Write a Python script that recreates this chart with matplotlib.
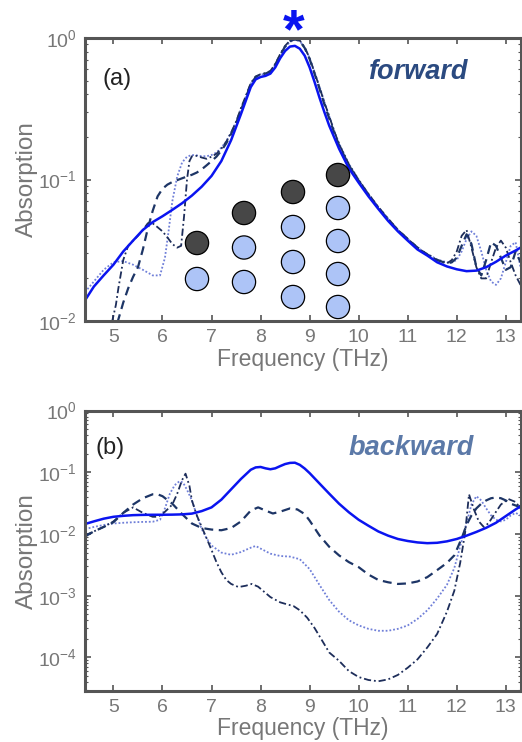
import matplotlib
matplotlib.use("Agg")
import matplotlib.pyplot as plt
import numpy as np

plt.rcParams['font.family'] = ['Liberation Sans', 'DejaVu Sans']
plt.rcParams['mathtext.default'] = 'regular'

# ---- panel (a) forward ----
fa_solid = [4.42, 4.6, 4.8, 5.0, 5.2, 5.4, 5.6, 5.8, 6.0, 6.2, 6.4, 6.6, 6.8, 7.0, 7.2, 7.4, 7.6, 7.8, 7.9,
            8.0, 8.1, 8.2, 8.3, 8.4, 8.5, 8.6, 8.7, 8.8, 8.9, 9.0, 9.1, 9.2, 9.3, 9.4, 9.6, 9.8, 10.0, 10.2,
            10.4, 10.6, 10.8, 11.0, 11.2, 11.4, 11.6, 11.8, 12.0, 12.2, 12.4, 12.6, 12.8, 13.0, 13.2, 13.3]
a_solid = [0.014, 0.0175, 0.021, 0.025, 0.031, 0.037, 0.044, 0.050, 0.055, 0.061, 0.068, 0.077, 0.089, 0.106,
           0.135, 0.19, 0.29, 0.45, 0.51, 0.53, 0.54, 0.56, 0.62, 0.72, 0.81, 0.87, 0.88, 0.84, 0.75, 0.62,
           0.49, 0.38, 0.30, 0.24, 0.165, 0.12, 0.095, 0.076, 0.062, 0.051, 0.043, 0.037, 0.032, 0.029,
           0.026, 0.0243, 0.0232, 0.0225, 0.0227, 0.024, 0.0262, 0.029, 0.0315, 0.033]

fa_dash = [5.08, 5.2, 5.3, 5.4, 5.5, 5.6, 5.7, 5.8, 5.9, 6.0, 6.1, 6.2, 6.3, 6.4, 6.5, 6.6, 6.7, 6.8, 6.9,
           7.0, 7.1, 7.2, 7.3, 7.4, 7.5, 7.6, 7.7, 7.8, 7.9, 8.0, 8.1, 8.2, 8.3, 8.4, 8.5, 8.6, 8.7, 8.8,
           8.9, 9.0, 9.1, 9.2, 9.3, 9.4, 9.5, 9.6, 9.8, 10.0, 10.2, 10.4, 10.6, 10.8, 11.0, 11.2, 11.4,
           11.6, 11.8, 11.9, 12.0, 12.1, 12.2, 12.3, 12.4, 12.5, 12.6, 12.7, 12.8, 12.9, 13.0, 13.1, 13.2, 13.3]
a_dash = [0.0097, 0.0135, 0.017, 0.0205, 0.024, 0.032, 0.045, 0.06, 0.076, 0.086, 0.092, 0.096, 0.099,
          0.102, 0.105, 0.108, 0.112, 0.118, 0.126, 0.135, 0.145, 0.16, 0.18, 0.21, 0.25, 0.31, 0.38, 0.47,
          0.53, 0.55, 0.56, 0.58, 0.65, 0.76, 0.87, 0.95, 0.98, 0.95, 0.85, 0.71, 0.56, 0.44, 0.34, 0.27,
          0.215, 0.175, 0.126, 0.098, 0.078, 0.063, 0.052, 0.044, 0.038, 0.033, 0.0295, 0.027, 0.0255,
          0.026, 0.028, 0.034, 0.041, 0.035, 0.024, 0.021, 0.027, 0.036, 0.034, 0.028, 0.023, 0.024, 0.031, 0.026]

fa_dot = [4.42, 4.6, 4.8, 5.0, 5.2, 5.4, 5.6, 5.8, 5.95, 6.05, 6.12, 6.2, 6.3, 6.4, 6.5, 6.6, 6.7, 6.8, 6.9,
          7.0, 7.1, 7.2, 7.3, 7.4, 7.5, 7.6, 7.7, 7.8, 7.9, 8.0, 8.1, 8.2, 8.3, 8.4, 8.5, 8.6, 8.7, 8.8,
          8.9, 9.0, 9.1, 9.2, 9.3, 9.4, 9.5, 9.6, 9.8, 10.0, 10.2, 10.4, 10.6, 10.8, 11.0, 11.2, 11.4,
          11.6, 11.8, 11.9, 12.0, 12.1, 12.2, 12.3, 12.4, 12.5, 12.6, 12.7, 12.8, 12.9, 13.0, 13.1, 13.2, 13.3]
a_dot = [0.016, 0.019, 0.023, 0.026, 0.0265, 0.025, 0.023, 0.021, 0.021, 0.028, 0.042, 0.07, 0.105, 0.132,
         0.145, 0.149, 0.148, 0.146, 0.146, 0.149, 0.155, 0.168, 0.186, 0.215, 0.255, 0.315, 0.385, 0.475,
         0.53, 0.55, 0.56, 0.58, 0.645, 0.755, 0.86, 0.94, 0.97, 0.95, 0.855, 0.72, 0.575, 0.455, 0.355,
         0.28, 0.222, 0.18, 0.129, 0.1, 0.079, 0.064, 0.053, 0.044, 0.038, 0.033, 0.0298, 0.0272, 0.026,
         0.026, 0.027, 0.031, 0.038, 0.043, 0.040, 0.031, 0.023, 0.019, 0.018, 0.020, 0.026, 0.034, 0.036, 0.024]

fa_dd = [4.97, 5.05, 5.1, 5.2, 5.3, 5.4, 5.5, 5.6, 5.7, 5.75, 5.8, 5.9, 6.0, 6.1, 6.2, 6.3, 6.38, 6.44, 6.5,
         6.55, 6.6, 6.7, 6.8, 6.9, 7.0, 7.1, 7.2, 7.3, 7.4, 7.5, 7.6, 7.7, 7.8, 7.9, 8.0, 8.1, 8.2, 8.3,
         8.4, 8.5, 8.6, 8.7, 8.8, 8.9, 9.0, 9.1, 9.2, 9.3, 9.4, 9.5, 9.6, 9.8, 10.0, 10.2, 10.4, 10.6,
         10.8, 11.0, 11.2, 11.4, 11.6, 11.8, 11.9, 12.0, 12.1, 12.2, 12.3, 12.4, 12.5, 12.6, 12.7, 12.8,
         12.9, 13.0, 13.1, 13.2, 13.3]
a_dd = [0.0098, 0.013, 0.017, 0.027, 0.034, 0.037, 0.040, 0.044, 0.049, 0.050, 0.049, 0.046, 0.043, 0.039,
        0.035, 0.033, 0.034, 0.055, 0.10, 0.135, 0.146, 0.147, 0.143, 0.140, 0.145, 0.152, 0.165, 0.185,
        0.215, 0.255, 0.32, 0.39, 0.48, 0.535, 0.555, 0.565, 0.585, 0.655, 0.77, 0.88, 0.96, 0.99, 0.96,
        0.86, 0.72, 0.57, 0.45, 0.35, 0.28, 0.22, 0.178, 0.128, 0.099, 0.079, 0.064, 0.053, 0.044, 0.038,
        0.033, 0.0295, 0.027, 0.0255, 0.027, 0.031, 0.040, 0.044, 0.033, 0.024, 0.020, 0.020, 0.026, 0.033,
        0.037, 0.033, 0.026, 0.021, 0.018]

# ---- panel (b) backward ----
fb_solid = [4.42, 4.6, 4.8, 5.0, 5.2, 5.4, 5.6, 5.8, 6.0, 6.2, 6.4, 6.6, 6.8, 7.0, 7.2, 7.4, 7.6, 7.8, 7.9,
            8.0, 8.1, 8.2, 8.3, 8.4, 8.5, 8.6, 8.7, 8.8, 8.9, 9.0, 9.1, 9.2, 9.4, 9.6, 9.8, 10.0, 10.2, 10.4,
            10.6, 10.8, 11.0, 11.2, 11.4, 11.6, 11.8, 12.0, 12.2, 12.4, 12.6, 12.8, 13.0, 13.2, 13.3]
b_solid = [0.0145, 0.016, 0.0177, 0.019, 0.0197, 0.0202, 0.0204, 0.0205, 0.0205, 0.0206, 0.0208, 0.0214,
           0.0235, 0.027, 0.036, 0.053, 0.078, 0.11, 0.12, 0.122, 0.116, 0.112, 0.116, 0.126, 0.136, 0.142,
           0.143, 0.132, 0.115, 0.097, 0.08, 0.066, 0.045, 0.031, 0.0225, 0.017, 0.0136, 0.011, 0.0094,
           0.0083, 0.0077, 0.0073, 0.0071, 0.0072, 0.0076, 0.0083, 0.0094, 0.0108, 0.0126, 0.0152, 0.0195,
           0.025, 0.028]

fb_dash = [4.42, 4.6, 4.8, 5.0, 5.2, 5.4, 5.6, 5.8, 5.9, 6.0, 6.2, 6.4, 6.6, 6.8, 7.0, 7.2, 7.4, 7.6, 7.8,
           7.95, 8.1, 8.25, 8.4, 8.6, 8.75, 8.9, 9.0, 9.2, 9.4, 9.6, 9.8, 10.0, 10.2, 10.4, 10.6, 10.8, 11.0,
           11.2, 11.4, 11.6, 11.8, 11.95, 12.1, 12.2, 12.3, 12.4, 12.5, 12.6, 12.7, 12.8, 12.9, 13.0, 13.1,
           13.2, 13.3]
b_dash = [0.0091, 0.011, 0.013, 0.0155, 0.022, 0.030, 0.038, 0.044, 0.044, 0.041, 0.031, 0.021, 0.0148,
          0.0125, 0.0118, 0.0115, 0.0125, 0.016, 0.024, 0.027, 0.024, 0.0215, 0.023, 0.026, 0.025, 0.021,
          0.0165, 0.0095, 0.0062, 0.0045, 0.0035, 0.0029, 0.0022, 0.0018, 0.00165, 0.00155, 0.00158,
          0.0017, 0.0020, 0.0026, 0.0034, 0.0045, 0.0085, 0.014, 0.020, 0.026, 0.031, 0.035, 0.038, 0.039,
          0.038, 0.035, 0.031, 0.029, 0.027]

fb_dot = [4.42, 4.6, 4.8, 5.0, 5.2, 5.4, 5.6, 5.8, 5.95, 6.05, 6.15, 6.25, 6.35, 6.42, 6.5, 6.6, 6.7, 6.8,
          6.9, 7.0, 7.2, 7.4, 7.6, 7.8, 7.9, 8.0, 8.2, 8.4, 8.6, 8.8, 9.0, 9.2, 9.4, 9.6, 9.8, 10.0, 10.2,
          10.4, 10.6, 10.8, 11.0, 11.2, 11.4, 11.6, 11.8, 11.95, 12.07, 12.2, 12.3, 12.4, 12.5, 12.6, 12.7,
          12.8, 12.9, 13.0, 13.1, 13.2, 13.3]
b_dot = [0.012, 0.013, 0.014, 0.0148, 0.0152, 0.0155, 0.0157, 0.0158, 0.017, 0.026, 0.045, 0.062, 0.072,
         0.068, 0.052, 0.035, 0.020, 0.012, 0.0085, 0.0065, 0.005, 0.0046, 0.0051, 0.006, 0.0064, 0.0058,
         0.0048, 0.0044, 0.0043, 0.0039, 0.0027, 0.0015, 0.00085, 0.00055, 0.0004, 0.00033, 0.00029,
         0.00027, 0.00027, 0.00029, 0.00033, 0.00042, 0.00058, 0.0009, 0.0015, 0.0028, 0.0063, 0.015,
         0.030, 0.041, 0.035, 0.026, 0.020, 0.017, 0.016, 0.017, 0.020, 0.022, 0.020]

fb_dd = [4.42, 4.6, 4.8, 5.0, 5.2, 5.4, 5.6, 5.8, 5.9, 6.0, 6.1, 6.2, 6.3, 6.4, 6.47, 6.55, 6.6, 6.7, 6.8,
         6.9, 7.0, 7.1, 7.2, 7.3, 7.4, 7.55, 7.7, 7.82, 7.95, 8.06, 8.2, 8.4, 8.55, 8.67, 8.8, 8.95, 9.1,
         9.25, 9.4, 9.6, 9.8, 10.0, 10.2, 10.4, 10.6, 10.8, 11.0, 11.2, 11.4, 11.6, 11.8, 11.95, 12.07,
         12.17, 12.25, 12.35, 12.45, 12.55, 12.65, 12.75, 12.9, 13.05, 13.2, 13.3]
b_dd = [0.0095, 0.011, 0.013, 0.016, 0.022, 0.027, 0.022, 0.019, 0.019, 0.021, 0.025, 0.030, 0.045, 0.075,
        0.095, 0.060, 0.035, 0.020, 0.013, 0.0085, 0.0055, 0.0035, 0.0024, 0.0018, 0.00155, 0.00138,
        0.00145, 0.00155, 0.0014, 0.00118, 0.00095, 0.00078, 0.00072, 0.00068, 0.00058, 0.00044,
        0.00030, 0.00019, 0.00012, 0.000088, 0.00006, 0.000048, 0.000043, 0.000041, 0.000044, 0.000052,
        0.000068, 0.000093, 0.000145, 0.00024, 0.00055, 0.0012, 0.0034, 0.0104, 0.044, 0.025, 0.016,
        0.013, 0.015, 0.020, 0.030, 0.037, 0.033, 0.026]

x_ticks = [5, 6, 7, 8, 9, 10, 11, 12, 13]

c_solid = '#0a14f0'
c_dash = '#1d3566'
c_dot = '#6f7fd8'
c_dd = '#1d2d5a'
grey = '#777777'
frame = '#555555'

W, H = 522, 742
fig = plt.figure(figsize=(W / 100, H / 100), dpi=100)
ax1 = fig.add_axes([85 / W, 1 - 321 / H, 436 / W, 283 / H])
ax2 = fig.add_axes([85 / W, 1 - 690.7 / H, 436 / W, 280.1 / H])


def style(ax, ylo):
    ax.set_yscale('log')
    ax.set_xlim(4.42, 13.31)
    ax.set_ylim(ylo, 1)
    ax.set_xticks(x_ticks)
    for s in ax.spines.values():
        s.set_color(frame)
        s.set_linewidth(2.2)
    ax.tick_params(which='major', direction='in', top=True, right=True, length=4, width=1.2,
                   color=frame, labelsize=14, labelcolor=grey, pad=6)
    ax.tick_params(which='minor', direction='in', left=True, right=True, length=2, width=0.8, color=frame)
    ax.set_xlabel('Frequency (THz)', fontsize=16.5, color=grey, labelpad=1)
    ax.set_ylabel('Absorption', fontsize=17.5, color=grey, labelpad=0)


ax1.plot(fa_dot, a_dot, color=c_dot, lw=1.3, linestyle=(0, (1, 1.1)))
ax1.plot(fa_dd, a_dd, color=c_dd, lw=1.3, linestyle=(0, (4, 1.6, 1, 1.6)))
ax1.plot(fa_dash, a_dash, color=c_dash, lw=1.6, linestyle=(0, (4, 2.5)))
ax1.plot(fa_solid, a_solid, color=c_solid, lw=1.8)
style(ax1, 1e-2)
ax1.set_yticks([1e-2, 1e-1, 1])
ax1.text(0.04, 0.855, '(a)', transform=ax1.transAxes, fontsize=17, color='#222222', va='center')
ax1.text(0.764, 0.88, 'forward', transform=ax1.transAxes, fontsize=19.5, color='#2b4a80',
         fontweight='bold', fontstyle='italic', ha='center', va='center')
ax1.text(8.67, 1.018, '*', transform=ax1.get_xaxis_transform(), fontsize=40, fontweight='bold',
         color=c_solid, ha='center', va='center', clip_on=False)

ax2.plot(fb_dot, b_dot, color=c_dot, lw=1.3, linestyle=(0, (1, 1.1)))
ax2.plot(fb_dd, b_dd, color=c_dd, lw=1.3, linestyle=(0, (4, 1.6, 1, 1.6)))
ax2.plot(fb_dash, b_dash, color=c_dash, lw=1.6, linestyle=(0, (4, 2.5)))
ax2.plot(fb_solid, b_solid, color=c_solid, lw=1.8)
style(ax2, 10 ** -4.54)
ax2.set_yticks([1e-4, 1e-3, 1e-2, 1e-1, 1])
ax2.text(0.025, 0.867, '(b)', transform=ax2.transAxes, fontsize=17, color='#222222', va='center')
ax2.text(0.748, 0.867, 'backward', transform=ax2.transAxes, fontsize=19.5, color='#5b79a8',
         fontweight='bold', fontstyle='italic', ha='center', va='center')

# sphere sketch inside panel (a), figure pixel layout
sk = fig.add_axes([0, 0, 1, 1])
sk.set_xlim(0, W)
sk.set_ylim(H, 0)
sk.axis('off')
col_x = [197, 244, 293, 338]
col_top = [243, 213, 192, 175]
col_gap = [36, 34.5, 35, 33]
for i, (cx, ct, gap) in enumerate(zip(col_x, col_top, col_gap)):
    n = i + 2
    ys = [ct + gap * k for k in range(n)]
    cols = ['#474747'] + ['#adc4f7'] * (n - 1)
    sk.scatter([cx] * n, ys, s=280, c=cols, edgecolors='black', linewidths=0.9, zorder=5)

plt.savefig('out.png', dpi=100)
